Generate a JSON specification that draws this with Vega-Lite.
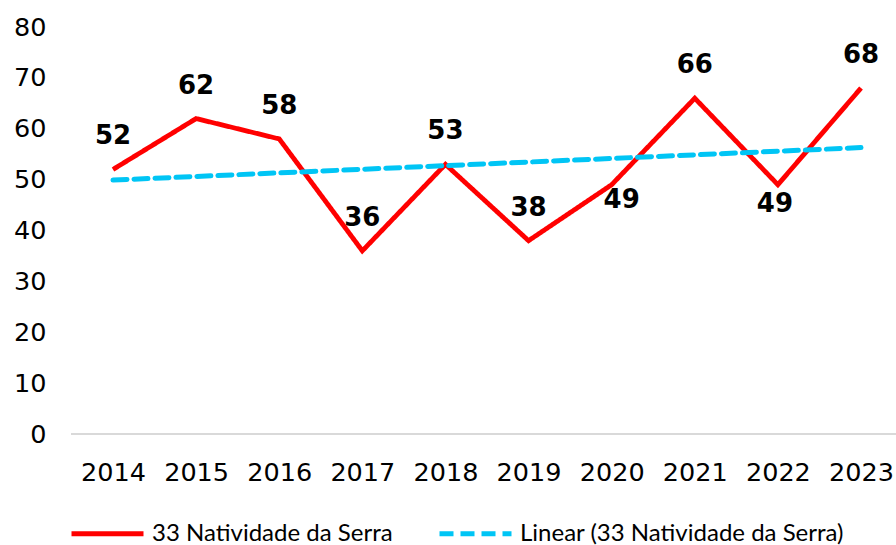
{
  "$schema": "https://vega.github.io/schema/vega-lite/v6.json",
  "width": 825,
  "height": 407,
  "autosize": {"type": "none"},
  "padding": {"left": 71, "top": 27, "right": 0, "bottom": 111},
  "background": "white",
  "config": {"view": {"stroke": null}, "font": "DejaVu Sans"},
  "data": {
    "values": [
      {"year": 2014, "value": 52},
      {"year": 2015, "value": 62},
      {"year": 2016, "value": 58},
      {"year": 2017, "value": 36},
      {"year": 2018, "value": 53},
      {"year": 2019, "value": 38},
      {"year": 2020, "value": 49},
      {"year": 2021, "value": 66},
      {"year": 2022, "value": 49},
      {"year": 2023, "value": 68}
    ]
  },
  "encoding": {
    "x": {
      "field": "year",
      "type": "ordinal",
      "scale": {"type": "point", "range": [42, 790], "padding": 0},
      "axis": {
        "title": null,
        "labelAngle": 0,
        "domain": false,
        "ticks": false,
        "grid": false,
        "labelPadding": 26,
        "labelFontSize": 25.5,
        "labelColor": "#000000",
        "labelFont": "DejaVu Sans"
      }
    },
    "y": {
      "field": "value",
      "type": "quantitative",
      "scale": {"domain": [0, 80]},
      "axis": {
        "title": null,
        "values": [0, 10, 20, 30, 40, 50, 60, 70, 80],
        "domain": false,
        "ticks": false,
        "grid": false,
        "labelPadding": 25,
        "labelFontSize": 25.5,
        "labelColor": "#000000",
        "labelFont": "DejaVu Sans"
      }
    }
  },
  "layer": [
    {
      "mark": {"type": "rule", "color": "#D9D9D9", "strokeWidth": 1.5},
      "encoding": {"x": null, "y": {"datum": 0}}
    },
    {
      "mark": {"type": "line", "strokeWidth": 4.8, "strokeJoin": "miter"},
      "encoding": {
        "color": {
          "datum": "33 Natividade da Serra",
          "scale": {
            "domain": ["33 Natividade da Serra", "Linear (33 Natividade da Serra)"],
            "range": ["#FF0000", "#00C5F5"]
          },
          "legend": {
            "title": null,
            "orient": "none",
            "legendX": -2,
            "legendY": 468,
            "direction": "horizontal",
            "symbolType": "stroke",
            "symbolSize": 5184,
            "symbolStrokeWidth": 5,
            "labelFont": "Lato",
            "labelFontSize": 24,
            "labelColor": "#000000",
            "labelOffset": 6,
            "columnPadding": 36,
            "labelLimit": 600
          }
        },
        "strokeDash": {
          "datum": "33 Natividade da Serra",
          "scale": {
            "domain": ["33 Natividade da Serra", "Linear (33 Natividade da Serra)"],
            "range": [[1, 0], [14, 7]]
          },
          "legend": {
            "title": null,
            "orient": "none",
            "legendX": -2,
            "legendY": 468,
            "direction": "horizontal",
            "symbolType": "stroke",
            "symbolSize": 5184,
            "symbolStrokeWidth": 5,
            "labelFont": "Lato",
            "labelFontSize": 24,
            "labelColor": "#000000",
            "labelOffset": 6,
            "columnPadding": 36,
            "labelLimit": 600
          }
        }
      }
    },
    {
      "transform": [{"regression": "value", "on": "year"}],
      "mark": {"type": "line", "strokeWidth": 5, "strokeCap": "round", "strokeDash": [10, 11]},
      "encoding": {
        "color": {"datum": "Linear (33 Natividade da Serra)"},
        "strokeDash": {"datum": "Linear (33 Natividade da Serra)"}
      }
    },
    {
      "transform": [{"filter": "datum.year != 2020 && datum.year != 2022"}],
      "mark": {"type": "text", "dy": -33, "fontSize": 26, "fontWeight": "bold", "color": "#000000", "font": "DejaVu Sans"},
      "encoding": {"text": {"field": "value", "type": "quantitative"}}
    },
    {
      "transform": [{"filter": "datum.year == 2020"}],
      "mark": {"type": "text", "dx": 10, "dy": 15, "fontSize": 26, "fontWeight": "bold", "color": "#000000", "font": "DejaVu Sans"},
      "encoding": {"text": {"field": "value", "type": "quantitative"}}
    },
    {
      "transform": [{"filter": "datum.year == 2022"}],
      "mark": {"type": "text", "dx": -3, "dy": 19, "fontSize": 26, "fontWeight": "bold", "color": "#000000", "font": "DejaVu Sans"},
      "encoding": {"text": {"field": "value", "type": "quantitative"}}
    }
  ]
}
